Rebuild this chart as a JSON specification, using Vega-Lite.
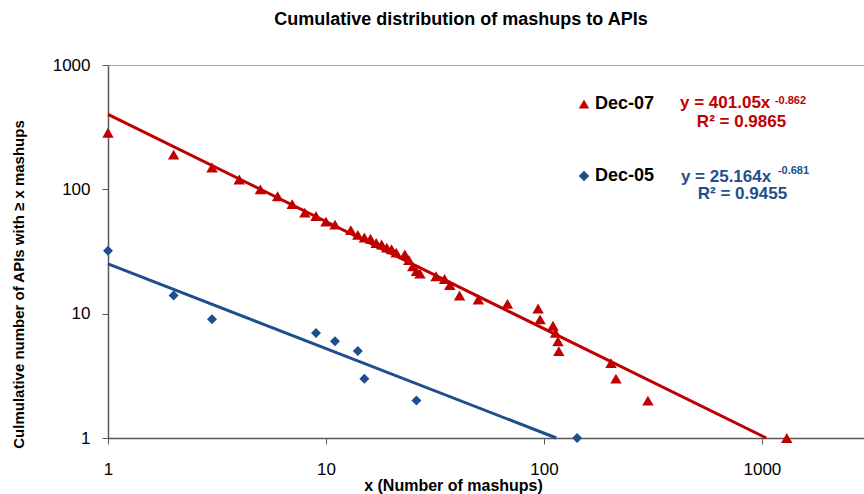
{
  "$schema": "https://vega.github.io/schema/vega-lite/v6.json",
  "width": 756,
  "height": 373,
  "autosize": {"type": "none"},
  "padding": {"left": 108, "top": 65, "right": 0, "bottom": 56},
  "background": "white",
  "config": {
    "view": {"stroke": "#a6a6a6", "strokeWidth": 1},
    "font": "Liberation Sans"
  },
  "title": {
    "text": "Cumulative distribution of mashups to APIs",
    "font": "Liberation Sans",
    "fontSize": 18,
    "fontWeight": "bold",
    "color": "black",
    "anchor": "middle",
    "frame": "group",
    "dx": -25,
    "offset": 27
  },
  "datasets": {
    "pts": [
      {"series": "Dec-07", "x": 1, "y": 285},
      {"series": "Dec-07", "x": 2, "y": 190},
      {"series": "Dec-07", "x": 3, "y": 150},
      {"series": "Dec-07", "x": 4, "y": 120},
      {"series": "Dec-07", "x": 5, "y": 100},
      {"series": "Dec-07", "x": 6, "y": 88},
      {"series": "Dec-07", "x": 7, "y": 76},
      {"series": "Dec-07", "x": 8, "y": 65},
      {"series": "Dec-07", "x": 9, "y": 61},
      {"series": "Dec-07", "x": 10, "y": 55},
      {"series": "Dec-07", "x": 11, "y": 52},
      {"series": "Dec-07", "x": 13, "y": 47},
      {"series": "Dec-07", "x": 14, "y": 43},
      {"series": "Dec-07", "x": 15, "y": 41},
      {"series": "Dec-07", "x": 16, "y": 40},
      {"series": "Dec-07", "x": 17, "y": 37},
      {"series": "Dec-07", "x": 18, "y": 36},
      {"series": "Dec-07", "x": 19, "y": 34},
      {"series": "Dec-07", "x": 20, "y": 33},
      {"series": "Dec-07", "x": 21, "y": 31},
      {"series": "Dec-07", "x": 23, "y": 30},
      {"series": "Dec-07", "x": 24, "y": 27},
      {"series": "Dec-07", "x": 25, "y": 24},
      {"series": "Dec-07", "x": 26, "y": 22},
      {"series": "Dec-07", "x": 27, "y": 21},
      {"series": "Dec-07", "x": 32, "y": 20},
      {"series": "Dec-07", "x": 35, "y": 19},
      {"series": "Dec-07", "x": 37, "y": 17},
      {"series": "Dec-07", "x": 41, "y": 14},
      {"series": "Dec-07", "x": 50, "y": 13},
      {"series": "Dec-07", "x": 68, "y": 12},
      {"series": "Dec-07", "x": 94, "y": 11},
      {"series": "Dec-07", "x": 96, "y": 9},
      {"series": "Dec-07", "x": 110, "y": 8},
      {"series": "Dec-07", "x": 113, "y": 7},
      {"series": "Dec-07", "x": 116, "y": 6},
      {"series": "Dec-07", "x": 117, "y": 5},
      {"series": "Dec-07", "x": 203, "y": 4},
      {"series": "Dec-07", "x": 214, "y": 3},
      {"series": "Dec-07", "x": 300, "y": 2},
      {"series": "Dec-07", "x": 1300, "y": 1},
      {"series": "Dec-05", "x": 1, "y": 32},
      {"series": "Dec-05", "x": 2, "y": 14},
      {"series": "Dec-05", "x": 3, "y": 9},
      {"series": "Dec-05", "x": 9, "y": 7},
      {"series": "Dec-05", "x": 11, "y": 6},
      {"series": "Dec-05", "x": 14, "y": 5},
      {"series": "Dec-05", "x": 15, "y": 3},
      {"series": "Dec-05", "x": 26, "y": 2},
      {"series": "Dec-05", "x": 142, "y": 1}
    ],
    "fits": [
      {"series": "Dec-07", "x": 1, "y": 401.05},
      {"series": "Dec-07", "x": 1047, "y": 1},
      {"series": "Dec-05", "x": 1, "y": 25.164},
      {"series": "Dec-05", "x": 114, "y": 1}
    ],
    "notes": [
      {"series": "Dec-07", "label": "y = 401.05x", "x": 421, "y": 447},
      {"series": "Dec-07", "label": "R² = 0.9865", "x": 503, "y": 315},
      {"series": "Dec-05", "label": "y = 25.164x", "x": 425, "y": 114},
      {"series": "Dec-05", "label": "R² = 0.9455", "x": 508, "y": 83}
    ],
    "exps": [
      {"series": "Dec-07", "label": "-0.862", "x": 1147, "y": 486},
      {"series": "Dec-05", "label": "-0.681", "x": 1184, "y": 132}
    ]
  },
  "encoding": {
    "x": {
      "field": "x",
      "type": "quantitative",
      "scale": {"type": "log", "domain": [1, 2940], "nice": false},
      "axis": {
        "values": [1, 10, 100, 1000],
        "format": "d",
        "grid": false,
        "domainColor": "#595959",
        "domainWidth": 1.5,
        "tickColor": "#595959",
        "tickSize": 6,
        "tickWidth": 1,
        "labelFont": "Liberation Sans",
        "labelFontSize": 17,
        "labelColor": "black",
        "labelPadding": 17,
        "labelFlush": false,
        "title": "x (Number of mashups)",
        "titleFont": "Liberation Sans",
        "titleFontSize": 16,
        "titleFontWeight": "bold",
        "titleColor": "black",
        "titleX": 345,
        "titleY": 47,
        "titleAlign": "center",
        "titleBaseline": "middle"
      }
    },
    "y": {
      "field": "y",
      "type": "quantitative",
      "scale": {"type": "log", "domain": [1, 1000], "nice": false},
      "axis": {
        "values": [1, 10, 100, 1000],
        "format": "d",
        "grid": false,
        "domainColor": "#595959",
        "domainWidth": 1.5,
        "tickColor": "#595959",
        "tickSize": 6,
        "tickWidth": 1,
        "labelFont": "Liberation Sans",
        "labelFontSize": 17,
        "labelColor": "black",
        "labelPadding": 12,
        "labelFlush": false,
        "title": "Culmulative number of APIs with ≥ x mashups",
        "titleFont": "Liberation Sans",
        "titleFontSize": 15,
        "titleFontWeight": "bold",
        "titleColor": "black",
        "titleAngle": -90,
        "titleX": -90,
        "titleY": 219,
        "titleAlign": "center",
        "titleBaseline": "middle"
      }
    }
  },
  "layer": [
    {
      "data": {"name": "fits"},
      "mark": {"type": "line", "strokeWidth": 3},
      "encoding": {
        "detail": {"field": "series", "type": "nominal"},
        "color": {
          "field": "series",
          "type": "nominal",
          "title": null,
          "scale": {"domain": ["Dec-07", "Dec-05"], "range": ["#C00000", "#1F4E8C"]},
          "legend": {
            "orient": "none",
            "legendX": 467,
            "legendY": 30,
            "padding": 0,
            "labelFont": "Liberation Sans",
            "labelFontSize": 18,
            "labelFontWeight": "bold",
            "labelColor": "black",
            "labelOffset": 2,
            "rowPadding": 54,
            "symbolSize": 110,
            "symbolStrokeWidth": 0,
            "symbolType": "triangle-up",
            "encode": {
              "symbols": {
                "update": {
                  "fill": {"scale": "color", "field": "value"},
                  "shape": {"signal": "datum.value === 'Dec-07' ? 'triangle-up' : 'diamond'"},
                  "strokeWidth": {"value": 0},
                  "opacity": {"value": 1},
                  "fillOpacity": {"value": 1}
                }
              }
            }
          }
        }
      }
    },
    {
      "data": {"name": "pts"},
      "transform": [{"filter": "datum.series == 'Dec-07'"}],
      "mark": {"type": "point", "filled": true, "opacity": 1, "size": 130, "shape": "triangle-up", "color": "#C00000"}
    },
    {
      "data": {"name": "pts"},
      "transform": [{"filter": "datum.series == 'Dec-05'"}],
      "mark": {"type": "point", "filled": true, "opacity": 1, "size": 100, "shape": "diamond", "color": "#1F4E8C"}
    },
    {
      "data": {"name": "notes"},
      "transform": [{"filter": "datum.series == 'Dec-07'"}],
      "mark": {"type": "text", "align": "left", "baseline": "alphabetic", "font": "Liberation Sans", "fontSize": 17, "fontWeight": "bold", "color": "#C00000"},
      "encoding": {"text": {"field": "label"}}
    },
    {
      "data": {"name": "notes"},
      "transform": [{"filter": "datum.series == 'Dec-05'"}],
      "mark": {"type": "text", "align": "left", "baseline": "alphabetic", "font": "Liberation Sans", "fontSize": 17, "fontWeight": "bold", "color": "#1F4E8C"},
      "encoding": {"text": {"field": "label"}}
    },
    {
      "data": {"name": "exps"},
      "transform": [{"filter": "datum.series == 'Dec-07'"}],
      "mark": {"type": "text", "align": "left", "baseline": "alphabetic", "font": "Liberation Sans", "fontSize": 11, "fontWeight": "bold", "color": "#C00000"},
      "encoding": {"text": {"field": "label"}}
    },
    {
      "data": {"name": "exps"},
      "transform": [{"filter": "datum.series == 'Dec-05'"}],
      "mark": {"type": "text", "align": "left", "baseline": "alphabetic", "font": "Liberation Sans", "fontSize": 11, "fontWeight": "bold", "color": "#1F4E8C"},
      "encoding": {"text": {"field": "label"}}
    }
  ]
}
